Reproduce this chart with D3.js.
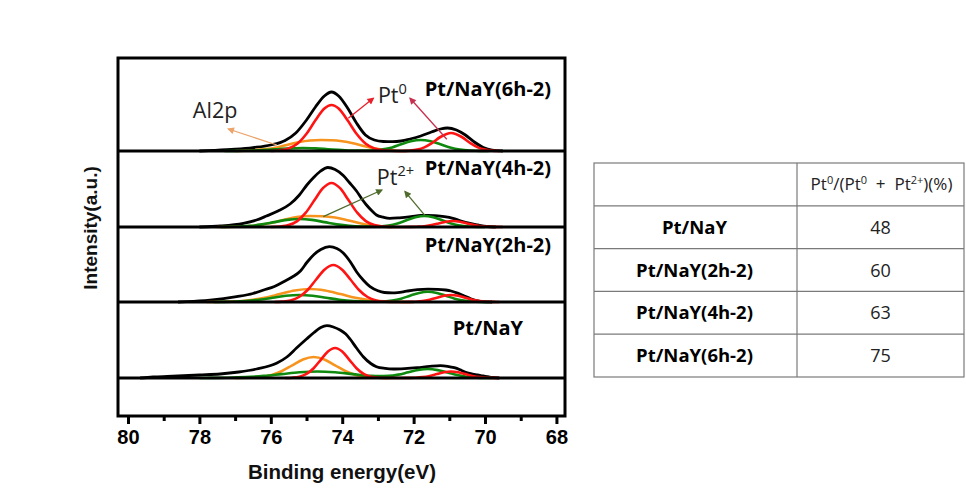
<!DOCTYPE html>
<html><head><meta charset="utf-8">
<script src="https://cdn.jsdelivr.net/npm/d3@7"></script>
<style>body{margin:0;background:#fff} svg{display:block} text{white-space:pre}</style>
</head><body><svg id="c" width="966" height="504"></svg>
<script>
// ---------- DATA ----------
const samples = ["Pt/NaY", "Pt/NaY(2h-2)", "Pt/NaY(4h-2)", "Pt/NaY(6h-2)"];
const ratioPt0 = [48, 60, 63, 75];
const majorTicks = [80, 78, 76, 74, 72, 70, 68];
const minorTicks = [79, 77, 75, 73, 71, 69];

// [binding energy (eV), intensity (a.u.)]
const envNaY = [[79.66,0],[79.3,1.0],[78.9,1.6],[78.6,2.0],[78.0,3.0],[77.42,4],[76.9,6],[76.4,9],[75.84,14.7],[75.55,21],[75.28,30],[75.0,39],[74.79,45.5],[74.6,50.5],[74.43,52.3],[74.25,51],[74.06,48],[73.9,44],[73.78,39],[73.6,30],[73.41,21.3],[73.2,14.5],[73.04,11.3],[72.8,9.6],[72.57,9],[72.25,9.4],[71.9,10.3],[71.55,11.6],[71.25,12.3],[71.05,11.7],[70.86,10.3],[70.7,8.2],[70.58,6.3],[70.4,4.3],[70.2,3],[70.05,2],[69.92,1.3],[69.8,0.5],[69.6,0]];
const pt0NaY = [[75.6,0],[75.4,0.3],[75.2,1.3],[75.0,4.1],[74.8,9.8],[74.6,18.2],[74.4,26.5],[74.2,30],[74.0,26.5],[73.8,18.2],[73.6,9.8],[73.4,4.1],[73.2,1.3],[73.0,0.3],[72.7,0],[72.35,0],[72.15,0.1],[71.95,0.3],[71.75,0.9],[71.55,2.1],[71.35,3.9],[71.15,5.7],[70.95,6.5],[70.75,5.7],[70.55,3.9],[70.35,2.1],[70.15,0.9],[69.95,0.3],[69.75,0.1],[69.6,0]];
const pt2NaY = [[78.0,0],[77.7,0.1],[77.2,0.3],[76.7,0.9],[76.2,2.1],[75.7,3.9],[75.2,5.7],[74.7,6.5],[74.2,5.7],[73.7,3.9],[73.2,2.2],[72.975,1.9],[72.7,2.1],[72.425,3.4],[72.15,5.75],[71.875,8.0],[71.6,9],[71.325,7.9],[71.05,5.5],[70.775,2.9],[70.5,1.2],[70.225,0.4],[69.95,0.1],[69.8,0]];
const al2pNaY = [[77.0,0],[76.6,0.2],[76.3,0.9],[76.0,2.8],[75.7,6.8],[75.4,12.7],[75.1,18.5],[74.8,21],[74.5,18.5],[74.2,12.7],[73.9,6.8],[73.6,2.8],[73.3,0.9],[73.0,0.2],[72.7,0]];

const env2h = [[78.6,0],[78.36,0.3],[77.7,1.8],[76.96,5.3],[76.5,8.5],[76.2,12],[75.9,15.5],[75.64,20.3],[75.4,25],[75.17,31],[74.98,40],[74.79,47.5],[74.6,52.5],[74.36,55.3],[74.15,53.5],[73.97,49],[73.78,40.5],[73.6,30.3],[73.4,21.5],[73.22,15.3],[73.0,11.2],[72.82,9.5],[72.6,9.1],[72.45,9.3],[72.2,10.8],[71.89,12.3],[71.6,12.8],[71.33,12.7],[71.1,12],[70.95,11],[70.75,8.6],[70.58,6],[70.4,3.3],[70.2,1.2],[70.0,0.2],[69.8,0]];
const pt0_2h = [[75.9,0],[75.69,0.4],[75.45,1.6],[75.21,5.0],[74.97,12.0],[74.73,22.5],[74.49,32.6],[74.25,37],[74.01,32.6],[73.77,22.5],[73.53,12.0],[73.29,5.0],[73.05,1.6],[72.81,0.4],[72.5,0],[72.35,0],[72.15,0.1],[71.95,0.3],[71.75,0.9],[71.55,2.3],[71.35,4.2],[71.15,6.2],[70.95,7],[70.75,6.2],[70.55,4.2],[70.35,2.3],[70.15,0.9],[69.95,0.3],[69.75,0.1],[69.6,0]];
const pt2_2h = [[77.6,0],[77.45,0.1],[77.08,0.3],[76.7,0.95],[76.33,2.3],[75.95,4.2],[75.58,6.2],[75.2,7],[74.83,6.2],[74.45,4.2],[74.08,2.3],[73.7,0.95],[73.33,0.35],[73.1,0.2],[72.85,0.5],[72.6,1.4],[72.35,3.3],[72.1,6.3],[71.85,9.1],[71.6,10.3],[71.35,9.1],[71.1,6.3],[70.85,3.3],[70.6,1.4],[70.35,0.45],[70.1,0.1],[69.9,0]];
const al2p_2h = [[77.8,0],[77.45,0.15],[77.03,0.6],[76.6,1.8],[76.18,4.2],[75.75,7.9],[75.33,11.5],[74.9,13],[74.48,11.5],[74.05,7.9],[73.63,4.2],[73.2,1.8],[72.78,0.6],[72.35,0.15],[72.0,0]];

const env4h = [[78.0,0],[77.4,1.0],[76.77,3.7],[76.4,7],[76.12,11],[75.8,16],[75.46,23],[75.2,32],[74.99,42],[74.8,49.5],[74.62,55.5],[74.4,59.5],[74.2,57.5],[73.97,51.5],[73.8,44.5],[73.6,36],[73.45,28],[73.32,22],[73.15,15.5],[73.04,12],[72.85,9.8],[72.67,8.7],[72.4,9.2],[72.07,10.3],[71.8,11.5],[71.6,11.7],[71.4,11.3],[71.14,10.3],[70.9,8.7],[70.67,6],[70.45,3.8],[70.2,2],[69.95,0.5],[69.7,0]];
const pt0_4h = [[76.0,0],[75.74,0.5],[75.5,1.9],[75.26,5.9],[75.02,14.3],[74.78,26.7],[74.54,38.8],[74.3,44],[74.06,38.8],[73.82,26.7],[73.58,14.3],[73.34,5.9],[73.1,1.9],[72.86,0.5],[72.5,0],[72.3,0],[72.1,0.1],[71.9,0.3],[71.7,0.8],[71.5,2.0],[71.3,3.6],[71.1,5.3],[70.9,6],[70.7,5.3],[70.5,3.6],[70.3,2.0],[70.1,0.8],[69.9,0.3],[69.7,0.1],[69.5,0]];
const pt2_4h = [[77.4,0],[77.3,0.1],[76.95,0.35],[76.6,1.1],[76.25,2.6],[75.9,4.9],[75.55,7.1],[75.2,8],[74.85,7.1],[74.5,4.9],[74.15,2.6],[73.8,1.1],[73.45,0.45],[73.15,0.35],[72.95,0.55],[72.7,1.5],[72.45,3.6],[72.2,6.7],[71.95,9.7],[71.7,11],[71.45,9.7],[71.2,6.7],[70.95,3.6],[70.7,1.5],[70.45,0.5],[70.2,0.1],[70.0,0]];
const al2p_4h = [[77.5,0],[77.15,0.1],[76.78,0.6],[76.4,1.6],[76.03,3.8],[75.65,7.0],[75.28,10],[74.9,11],[74.55,10.8],[74.2,9.5],[73.85,6.8],[73.5,3.8],[73.15,1.5],[72.85,0.4],[72.6,0]];

const env6h = [[78.0,0],[77.6,0.6],[77.0,1.8],[76.5,3.4],[76.0,6],[75.6,10.5],[75.3,18],[75.0,31],[74.75,44],[74.5,55],[74.3,59],[74.1,55],[73.85,43],[73.6,28],[73.35,16],[73.1,11],[72.85,9.5],[72.6,9.3],[72.35,10],[72.1,12],[71.8,15],[71.5,19],[71.25,22],[71.05,23],[70.8,21],[70.55,16],[70.3,9],[70.05,3.5],[69.8,0.8],[69.5,0]];
const pt0_6h = [[76.0,0],[75.75,0.7],[75.5,2.6],[75.25,7.6],[75.0,17.3],[74.75,30.7],[74.5,42.5],[74.3,46],[74.1,42.5],[73.85,30.7],[73.6,17.3],[73.35,7.6],[73.1,2.6],[72.85,0.7],[72.5,0],[72.3,0],[72.1,0.4],[71.9,1.4],[71.7,3.6],[71.5,7.6],[71.25,14],[70.95,18],[70.65,14],[70.4,7.6],[70.2,3.6],[70.0,1.4],[69.8,0.4],[69.6,0]];
const pt2_6h = [[77.3,0],[76.8,0.2],[76.5,0.4],[76.2,0.9],[75.8,1.8],[75.45,2.6],[75.1,3],[74.75,2.6],[74.4,1.8],[74.0,0.9],[73.6,0.35],[73.2,0.5],[72.9,1.5],[72.6,3.6],[72.35,6.7],[72.08,9.7],[71.8,11],[71.52,9.7],[71.25,6.7],[70.98,3.6],[70.7,1.5],[70.4,0.5],[70.15,0.1],[69.9,0]];
const al2p_6h = [[77.0,0],[76.6,0.6],[76.2,1.6],[75.8,3.8],[75.5,6.5],[75.2,9.0],[74.9,10.5],[74.6,11],[74.3,10.8],[74.0,9.8],[73.7,7.8],[73.4,5.0],[73.1,2.6],[72.8,1.0],[72.5,0.3],[72.2,0]];

// one entry per sample (same order as samples)
const envelopes = [envNaY, env2h, env4h, env6h];
const pt0Fits = [pt0NaY, pt0_2h, pt0_4h, pt0_6h];
const pt2Fits = [pt2NaY, pt2_2h, pt2_4h, pt2_6h];
const al2pFits = [al2pNaY, al2p_2h, al2p_4h, al2p_6h];

// ---------- LAYOUT ----------
const svg = d3.select("#c");
const plot = {left: 118, right: 565, top: 58, bottom: 416};
const baselines = [378, 302, 227, 151];
const x = d3.scaleLinear().domain([80.28, 67.76]).range([plot.left, plot.right]);
const yFor = i => d3.scaleLinear().domain([0, 60]).range([baselines[i], baselines[i] - 60]);

const colors = {env: "#000000", pt0: "#ff1414", pt2: "#0f8a0f", al2p: "#f7941d"};
const sansKR = "'Open Sans','Noto Sans','Noto Sans CJK KR',sans-serif";
const arial = "'Liberation Sans',Arial,sans-serif";

const defs = svg.append("defs");
defs.append("clipPath").attr("id", "clip").append("rect")
  .attr("x", plot.left).attr("y", plot.top)
  .attr("width", plot.right - plot.left).attr("height", plot.bottom - plot.top);

function marker(id, col) {
  defs.append("marker").attr("id", id).attr("viewBox", "0 0 10 10")
    .attr("refX", 8).attr("refY", 5).attr("markerWidth", 9).attr("markerHeight", 7)
    .attr("markerUnits", "userSpaceOnUse").attr("orient", "auto")
    .append("path").attr("d", "M0,0 L10,5 L0,10 z").attr("fill", col);
}
marker("mOr", "#eda46a"); marker("mRed", "#e8202a"); marker("mPink", "#c8304f"); marker("mGreen", "#4f6b2c");

// ---------- CURVES ----------
const g = svg.append("g").attr("clip-path", "url(#clip)");
samples.forEach((s, i) => {
  const y = yFor(i);
  const line = d3.line().x(d => x(d[0])).y(d => y(d[1])).curve(d3.curveMonotoneX);
  const pg = g.append("g");
  pg.append("path").datum(envelopes[i]).attr("d", line).attr("fill", "none")
    .attr("stroke", colors.env).attr("stroke-width", 2.8).attr("stroke-linejoin", "round");
  pg.append("path").datum(al2pFits[i]).attr("d", line).attr("fill", "none")
    .attr("stroke", colors.al2p).attr("stroke-width", 2.6);
  pg.append("path").datum(pt2Fits[i]).attr("d", line).attr("fill", "none")
    .attr("stroke", colors.pt2).attr("stroke-width", 2.6);
  pg.append("path").datum(pt0Fits[i]).attr("d", line).attr("fill", "none")
    .attr("stroke", colors.pt0).attr("stroke-width", 2.6);
  // sample label
  svg.append("text").attr("x", x(69.92)).attr("y", y([43, 50, 52, 55][i]))
    .attr("text-anchor", "middle").attr("font-family", sansKR).attr("font-weight", "bold")
    .attr("font-size", 20).attr("fill", "#000").text(s);
});

// ---------- FRAME / SEPARATORS ----------
svg.append("rect").attr("x", plot.left).attr("y", plot.top)
  .attr("width", plot.right - plot.left).attr("height", plot.bottom - plot.top)
  .attr("fill", "none").attr("stroke", "#000").attr("stroke-width", 3);
svg.selectAll("line.sep").data(baselines).enter().append("line")
  .attr("x1", plot.left).attr("x2", plot.right).attr("y1", d => d).attr("y2", d => d)
  .attr("stroke", "#000").attr("stroke-width", 3);

// ---------- AXES ----------
const axMajor = svg.append("g").attr("transform", `translate(0,${plot.bottom})`)
  .call(d3.axisBottom(x).tickValues(majorTicks).tickSize(8).tickPadding(6).tickFormat(d3.format("d")));
const axMinor = svg.append("g").attr("transform", `translate(0,${plot.bottom})`)
  .call(d3.axisBottom(x).tickValues(minorTicks).tickSize(5).tickFormat(""));
[axMajor, axMinor].forEach(a => {
  a.select(".domain").remove();
  a.selectAll(".tick line").attr("stroke", "#000").attr("stroke-width", 3);
});
axMajor.selectAll(".tick text").attr("font-family", arial).attr("font-weight", "bold")
  .attr("font-size", 20).attr("fill", "#000");

svg.append("text").attr("x", 342).attr("y", 479).attr("text-anchor", "middle")
  .attr("font-family", arial).attr("font-weight", "bold").attr("font-size", 20.5)
  .attr("fill", "#111").text("Binding energy(eV)");
svg.append("text").attr("transform", "translate(97,228) rotate(-90)").attr("text-anchor", "middle")
  .attr("font-family", arial).attr("font-weight", "bold").attr("font-size", 19)
  .attr("fill", "#111").text("Intensity(a.u.)");

// ---------- ANNOTATIONS ----------
const y6 = yFor(3), y4 = yFor(2);
function arrow(ys, from, to, col, mk) {
  svg.append("line").attr("x1", x(from[0])).attr("y1", ys(from[1]))
    .attr("x2", x(to[0])).attr("y2", ys(to[1]))
    .attr("stroke", col).attr("stroke-width", 1.3).attr("marker-end", `url(#${mk})`);
}
arrow(y6, [75.83, 6], [77.19, 22], "#eda46a", "mOr");
arrow(y6, [73.83, 32.7], [73.13, 52.7], "#e8202a", "mRed");
arrow(y6, [71.07, 11.7], [72.1, 52.7], "#c8304f", "mPink");
arrow(y4, [74.53, 10.3], [72.89, 37], "#4f6b2c", "mGreen");
arrow(y4, [71.68, 11.3], [72.24, 35.3], "#4f6b2c", "mGreen");

function supLabel(xp, yp, base, sup, size) {
  const t = svg.append("text").attr("x", xp).attr("y", yp).attr("font-family", sansKR)
    .attr("font-size", size).attr("fill", "#222");
  t.append("tspan").text(base);
  t.append("tspan").attr("dy", -size * 0.42).attr("font-size", size * 0.68).text(sup);
  return t;
}
supLabel(x(73.0), y6(48), "Pt", "0", 21.5);
supLabel(x(73.03), y4(42), "Pt", "2+", 21.5);
svg.append("text").attr("x", x(77.56)).attr("y", y6(33)).attr("text-anchor", "middle")
  .attr("font-family", sansKR).attr("font-size", 21.5).attr("fill", "#222").text("Al2p");

// ---------- TABLE ----------
const tbl = svg.append("g");
const colX = [594, 797, 964];
const rowY = d3.scaleBand().domain(["header", ...samples]).range([163, 377]);
const lineCol = "#7a7a7a";
tbl.append("rect").attr("x", colX[0]).attr("y", rowY.range()[0])
  .attr("width", colX[2] - colX[0]).attr("height", rowY.range()[1] - rowY.range()[0])
  .attr("fill", "none").attr("stroke", lineCol).attr("stroke-width", 1.2);
tbl.selectAll("line.row").data(samples).enter().append("line")
  .attr("x1", colX[0]).attr("x2", colX[2]).attr("y1", d => rowY(d)).attr("y2", d => rowY(d))
  .attr("stroke", lineCol).attr("stroke-width", 1.2);
tbl.append("line").attr("x1", colX[1]).attr("x2", colX[1])
  .attr("y1", rowY.range()[0]).attr("y2", rowY.range()[1])
  .attr("stroke", lineCol).attr("stroke-width", 1.2);

const hdr = tbl.append("text").attr("x", (colX[1] + colX[2]) / 2 + 1)
  .attr("y", rowY("header") + rowY.bandwidth() / 2 + 6).attr("text-anchor", "middle")
  .attr("font-family", sansKR).attr("font-size", 17).attr("fill", "#222");
[["Pt", 0], ["0", 1], ["/(Pt", 0], ["0", 1], ["  +  Pt", 0], ["2+", 1], [")(%)", 0]].forEach(([t, s], k, arr) => {
  const prev = k > 0 ? arr[k - 1][1] : 0;
  hdr.append("tspan").attr("dy", s === prev ? 0 : (s ? -6.5 : 6.5))
    .attr("font-size", s ? 11 : 17).text(t);
});
tbl.selectAll("text.name").data(samples).enter().append("text")
  .attr("x", (colX[0] + colX[1]) / 2 - 1).attr("y", d => rowY(d) + rowY.bandwidth() / 2 + 6.5)
  .attr("text-anchor", "middle").attr("font-family", sansKR).attr("font-weight", "bold")
  .attr("font-size", 18.5).attr("fill", "#000").text(d => d);
tbl.selectAll("text.val").data(ratioPt0).enter().append("text")
  .attr("x", (colX[1] + colX[2]) / 2).attr("y", (d, k) => rowY(samples[k]) + rowY.bandwidth() / 2 + 6.5)
  .attr("text-anchor", "middle").attr("font-family", sansKR)
  .attr("font-size", 18).attr("fill", "#222").text(d => d);
</script></body></html>
